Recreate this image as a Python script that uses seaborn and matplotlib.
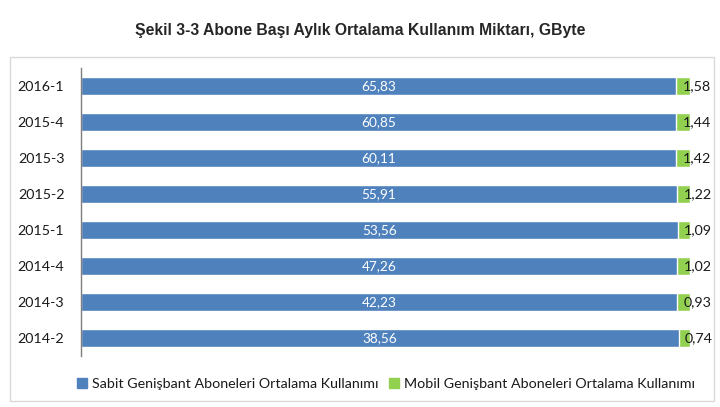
import matplotlib
matplotlib.use("Agg")
import matplotlib.pyplot as plt
import matplotlib.patches as mpatches
import seaborn as sns
import pandas as pd

categories = ["2016-1", "2015-4", "2015-3", "2015-2", "2015-1", "2014-4", "2014-3", "2014-2"]
sabit = [65.83, 60.85, 60.11, 55.91, 53.56, 47.26, 42.23, 38.56]
mobil = [1.58, 1.44, 1.42, 1.22, 1.09, 1.02, 0.93, 0.74]
series_names = ["Sabit Genişbant Aboneleri Ortalama Kullanımı",
                "Mobil Genişbant Aboneleri Ortalama Kullanımı"]
title = "Şekil 3-3 Abone Başı Aylık Ortalama Kullanım Miktarı, GByte"

BLUE = "#4F81BD"
GREEN = "#92D050"

sns.set_theme(style="white")
plt.rcParams["font.family"] = ["Lato", "DejaVu Sans"]

df = pd.DataFrame({"cat": categories, "sabit": sabit, "mobil": mobil})
df["total"] = df["sabit"] + df["mobil"]
df["sabit_pct"] = df["sabit"] / df["total"] * 100
df["total_pct"] = 100.0

fig = plt.figure(figsize=(7.2, 4.07), dpi=100)
ax = fig.add_axes([81 / 720, 1 - 356 / 407, (690 - 81) / 720, (356 - 68) / 407])

sns.barplot(data=df, x="total_pct", y="cat", color=GREEN, orient="h",
            width=0.48, ax=ax, saturation=1)
sns.barplot(data=df, x="sabit_pct", y="cat", color=BLUE, orient="h",
            width=0.48, ax=ax, saturation=1)

ax.set_xlim(0, 100)
ax.set_ylim(7.5, -0.5)
ax.set_xlabel("")
ax.set_ylabel("")
ax.set_xticks([])
for s in ["top", "right", "bottom"]:
    ax.spines[s].set_visible(False)
ax.spines["left"].set_color("#7f7f7f")
ax.spines["left"].set_linewidth(1)
ax.tick_params(axis="y", length=0, pad=12, labelsize=10.3, labelcolor="#1a1a1a")

for i, row in df.iterrows():
    ax.text(row["sabit_pct"] / 2, i, f"{row['sabit']:.2f}".replace(".", ","),
            ha="center", va="center", color="white", fontsize=9.8)
    gc = (row["sabit_pct"] + 100) / 2
    ax.text(gc, i, f"{row['mobil']:.2f}".replace(".", ","),
            ha="left", va="center", color="#1a1a1a", fontsize=10.3, clip_on=False)

fig.text(0.5, 1 - 30 / 407, title, ha="center", va="center",
         fontsize=11.3, fontweight="bold", family=["Liberation Sans", "DejaVu Sans"])

handles = [mpatches.Patch(color=BLUE, label=series_names[0]),
           mpatches.Patch(color=GREEN, label=series_names[1])]
fig.legend(handles=handles, loc="center", bbox_to_anchor=(386 / 720, 1 - 384 / 407),
           ncol=2, frameon=False, fontsize=10.3, handlelength=0.7, handleheight=0.7,
           handletextpad=0.3, columnspacing=0.8, labelcolor="#1a1a1a")

frame = mpatches.Rectangle((10 / 720, 1 - 401 / 407), (714 - 10) / 720, (401 - 57) / 407,
                           transform=fig.transFigure, fill=False,
                           edgecolor="#d9d9d9", linewidth=1)
fig.add_artist(frame)

fig.savefig("out.png", dpi=100, facecolor="white")
